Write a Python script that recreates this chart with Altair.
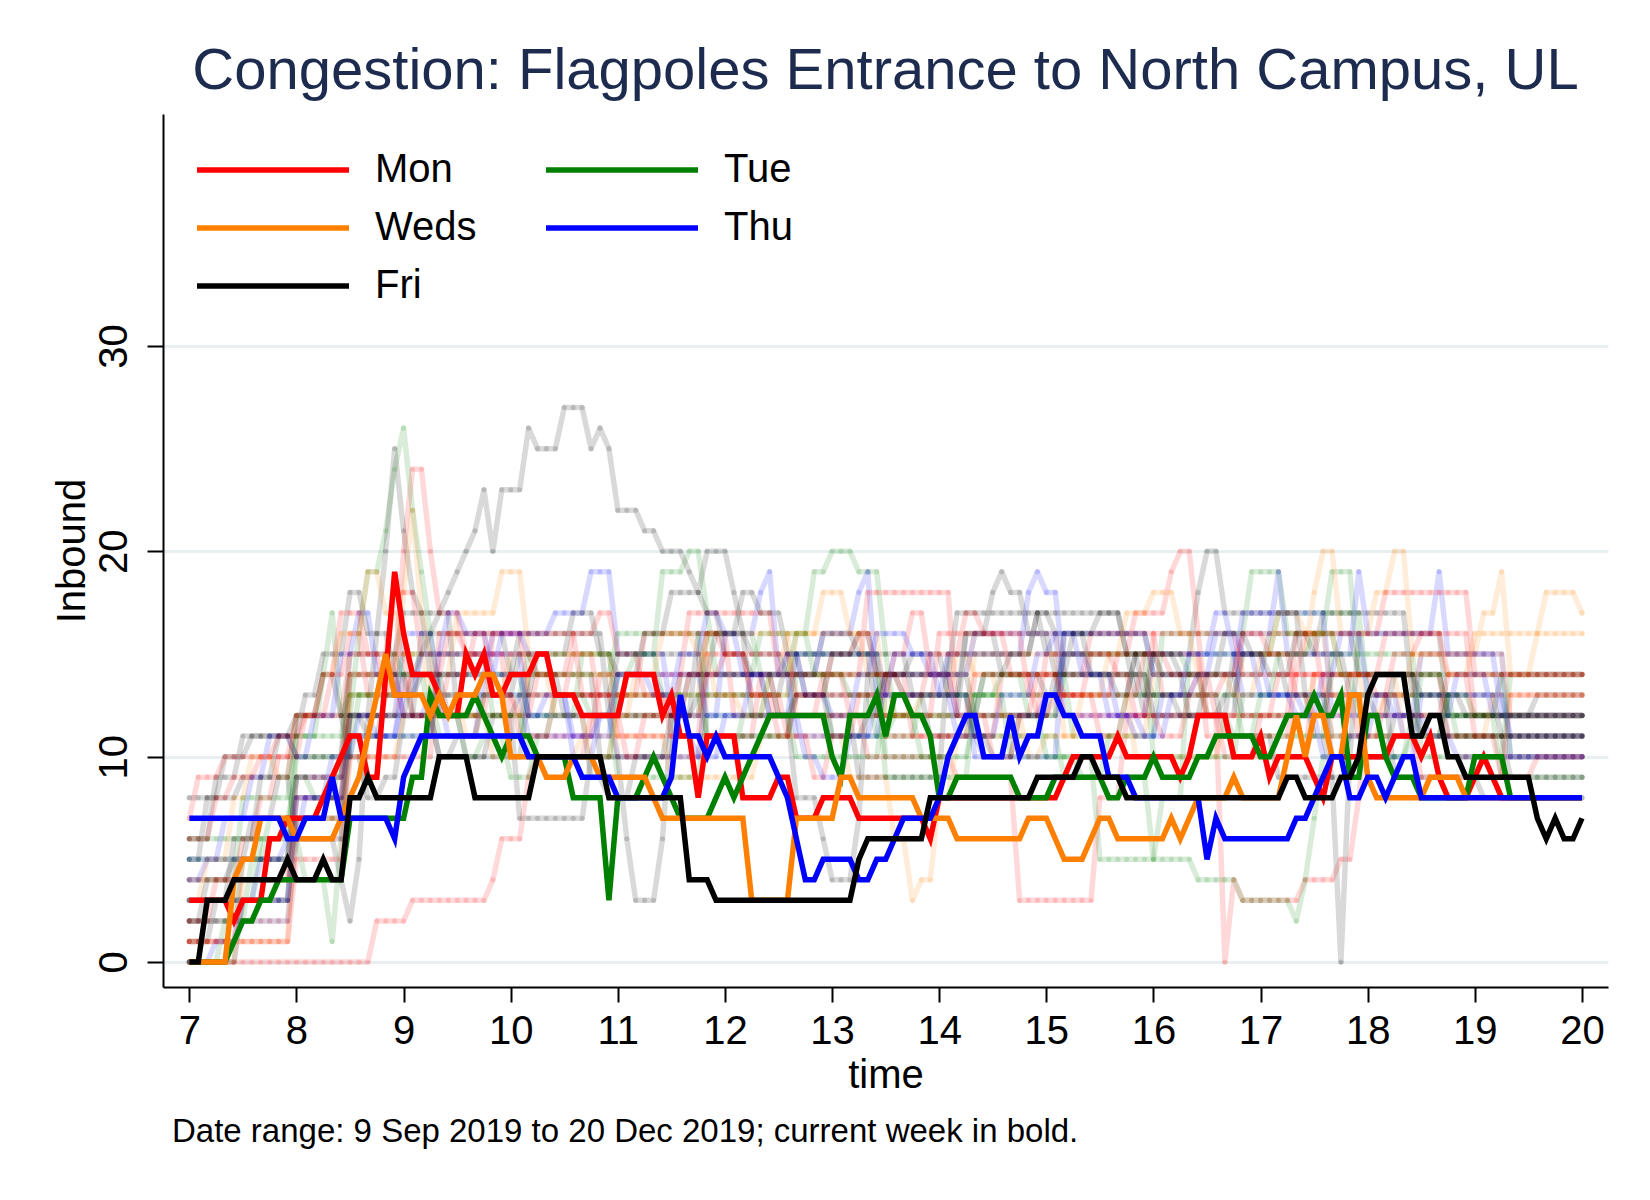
import altair as alt
import pandas as pd

FONT = "Liberation Sans"
TITLE = "Congestion: Flagpoles Entrance to North Campus, UL"
NOTE = "Date range: 9 Sep 2019 to 20 Dec 2019; current week in bold."

# sampling: one reading every 5 minutes from 07:00 to 20:00
START_HOUR = 7
STEP_MIN = 5
N_STEPS = 157

X_TICKS = list(range(7, 21))
Y_TICKS = [0, 10, 20, 30]

DAYS = ["Mon", "Tue", "Weds", "Thu", "Fri"]
DAY_COLOURS = ["#ff0000", "#008000", "#ff7f00", "#0000ff", "#000000"]

# current week, run-length encoded as (value, number of 5-minute readings)
mon_runs = [(3,5),(2,1),(3,3),(6,2),(7,4),(8,1),(9,1),(10,1),(11,2),(9,2),(14,1),(19,1),(16,1),(14,3),(13,1),(12,2),(15,1),(14,1),(15,1),(13,2),(14,3),(15,2),(13,3),(12,5),(14,4),(12,1),(13,1),(11,2),(8,1),(11,4),(8,4),(9,2),(7,3),(8,4),(7,8),(6,1),(8,14),(9,1),(10,5),(11,1),(10,6),(9,1),(10,1),(12,4),(10,3),(11,1),(9,1),(10,4),(9,1),(8,1),(10,7),(11,3),(10,1),(11,1),(9,1),(8,3),(9,1),(10,1),(9,1),(8,10)]
tue_runs = [(0,5),(1,1),(2,2),(3,2),(4,8),(7,7),(9,2),(13,1),(12,4),(13,1),(12,1),(11,1),(10,1),(11,3),(10,4),(8,4),(3,1),(8,3),(9,1),(10,1),(9,1),(8,1),(7,4),(8,1),(9,1),(8,1),(9,1),(10,1),(11,1),(12,7),(10,1),(9,1),(12,3),(13,1),(11,1),(13,2),(12,2),(11,1),(8,2),(9,7),(8,4),(9,6),(8,2),(9,3),(10,1),(9,4),(10,2),(11,5),(10,2),(11,1),(12,3),(13,1),(12,2),(13,1),(9,2),(12,2),(10,1),(9,3),(8,6),(10,4),(8,9)]
wed_runs = [(0,5),(4,1),(5,2),(7,4),(6,5),(7,1),(8,1),(9,1),(11,1),(13,1),(15,1),(13,4),(12,1),(13,1),(12,1),(13,3),(14,2),(13,1),(10,4),(9,3),(10,3),(9,6),(8,1),(7,10),(3,5),(7,5),(9,2),(8,7),(7,4),(6,8),(7,3),(6,1),(5,3),(6,1),(7,2),(6,6),(7,1),(6,1),(7,1),(8,4),(9,1),(8,5),(10,1),(12,1),(10,1),(12,2),(10,2),(13,2),(9,1),(8,6),(9,4),(8,14)]
thu_runs = [(7,11),(6,2),(7,3),(9,1),(7,6),(6,1),(9,1),(10,1),(11,12),(10,6),(9,4),(8,6),(9,1),(13,1),(11,2),(10,1),(11,1),(10,6),(9,1),(8,1),(6,1),(4,2),(5,4),(4,2),(5,2),(6,1),(7,4),(8,1),(10,1),(11,1),(12,2),(10,3),(12,1),(10,1),(11,2),(13,2),(12,2),(11,3),(9,3),(8,8),(5,1),(7,1),(6,8),(7,2),(8,1),(9,1),(10,2),(8,2),(9,2),(8,1),(9,1),(10,2),(8,19)]
fri_runs = [(0,2),(3,3),(4,6),(5,1),(4,3),(5,1),(4,2),(8,2),(9,1),(8,7),(10,4),(8,7),(10,8),(8,9),(4,3),(3,16),(5,1),(6,7),(8,12),(9,5),(10,2),(9,3),(8,18),(9,2),(8,4),(9,2),(10,1),(13,1),(14,4),(11,2),(12,2),(10,2),(9,8),(7,1),(6,1),(7,1),(6,2),(7,1)]

# earlier weeks (faint), run-length encoded the same way
past_grey_a = [(5,2),(8,2),(10,3),(11,5),(12,6),(10,2),(8,2),(9,2),(12,1),(14,1),(15,1),(16,1),(17,1),(18,1),(19,1),(20,1),(21,1),(23,1),(20,1),(23,3),(26,1),(25,3),(27,3),(25,1),(26,1),(25,1),(22,3),(21,2),(20,3),(19,1),(18,1),(20,3),(18,1),(16,1),(15,4),(14,4),(16,4),(15,6),(13,6),(16,4),(14,5),(13,10),(15,5),(14,10),(16,10),(14,10),(12,10),(13,6)]
past_red_a = [(0,21),(2,4),(3,9),(4,1),(6,3),(9,1),(10,6),(12,11),(14,10),(12,10),(10,10),(9,7),(3,9),(8,3),(12,11),(10,10),(14,15),(11,16)]
past_red_b = [(1,6),(5,6),(8,6),(14,6),(20,1),(24,2),(20,1),(17,3),(15,10),(13,10),(16,10),(12,10),(14,10),(11,10),(14,10),(16,8),(13,4),(14,2),(12,1),(0,1),(4,1),(3,7),(4,4),(5,2),(8,1),(12,9),(10,16)]
past_grey_b = [(8,6),(9,6),(6,5),(4,1),(2,1),(5,1),(12,6),(16,10),(14,10),(10,3),(6,1),(3,3),(6,1),(12,3),(16,6),(12,5),(8,3),(6,1),(4,3),(7,1),(14,10),(17,10),(15,10),(13,10),(11,6),(9,7),(0,1),(10,1),(16,10),(12,6),(14,10)]
past_green_a = [(2,6),(5,6),(9,6),(12,1),(16,1),(19,2),(21,1),(24,1),(26,1),(22,1),(19,1),(16,1),(13,10),(15,10),(12,10),(16,6),(14,8),(11,10),(13,10),(10,10),(5,7),(8,3),(15,10),(17,10),(13,10),(11,15)]
past_grey_c = [(3,12),(8,6),(12,3),(16,1),(20,1),(25,1),(21,1),(18,1),(17,1),(14,10),(16,10),(12,10),(13,10),(15,10),(12,10),(16,3),(18,1),(19,1),(18,2),(16,3),(14,10),(12,10),(15,10),(17,10),(13,10),(11,10)]
past_green_b = [(6,12),(10,6),(13,6),(15,10),(12,10),(15,9),(19,3),(20,2),(17,1),(14,5),(16,6),(19,2),(20,3),(19,3),(15,1),(12,10),(14,10),(11,10),(16,10),(19,4),(16,5),(19,3),(14,10),(12,16)]
past_blue_a = [(2,12),(6,6),(11,6),(14,10),(16,7),(17,4),(19,3),(15,6),(12,6),(16,4),(18,1),(19,1),(14,5),(16,4),(18,1),(19,1),(13,8),(15,9),(18,1),(19,1),(18,2),(14,10),(12,10),(16,4),(19,1),(15,8),(19,1),(16,8),(19,1),(15,6),(12,10)]
past_orange_a = [(1,12),(7,6),(12,6),(14,6),(17,5),(19,3),(15,10),(13,10),(16,10),(12,10),(14,10),(16,10),(14,10),(12,10),(15,8),(18,1),(20,2),(16,4),(18,2),(20,2),(15,8),(17,2),(19,1),(14,3),(16,1),(18,4),(17,1)]
past_orange_b = [(0,6),(4,6),(7,6),(10,6),(12,10),(10,10),(11,10),(9,10),(11,10),(9,5),(6,2),(3,1),(4,2),(8,2),(11,10),(13,10),(10,10),(12,10),(14,10),(11,10),(13,11)]
past_green_c = [(3,8),(6,5),(4,3),(1,1),(6,1),(11,10),(14,10),(12,10),(9,10),(12,10),(10,10),(13,10),(11,10),(9,10),(5,5),(4,5),(3,6),(2,1),(4,1),(7,1),(10,10),(12,10),(9,10)]
past_green_d = [(4,6),(8,6),(11,3),(14,1),(17,1),(12,1),(13,10),(11,10),(14,10),(16,10),(13,10),(15,10),(10,10),(12,10),(14,10),(13,10),(11,10),(15,10),(10,10),(14,9)]
past_grey_d = [(6,3),(9,3),(11,6),(10,6),(15,6),(17,6),(12,7),(7,8),(10,10),(14,10),(12,10),(9,10),(15,10),(17,10),(15,8),(18,1),(20,2),(17,9),(13,10),(9,10),(8,12)]
past_red_c = [(7,1),(9,3),(10,8),(12,6),(15,5),(18,3),(15,10),(11,10),(14,10),(17,10),(14,10),(18,10),(12,10),(15,10),(17,4),(19,1),(20,2),(16,1),(12,10),(16,10),(18,10),(14,13)]
past_blue_b = [(5,12),(9,6),(12,6),(16,4),(13,10),(11,10),(14,10),(12,10),(15,10),(13,10),(10,10),(16,10),(14,10),(17,10),(12,10),(15,10),(10,9)]
past_orange_c = [(2,12),(6,6),(13,6),(18,1),(22,1),(17,1),(15,1),(12,10),(14,10),(10,10),(13,10),(16,10),(12,10),(15,10),(11,10),(14,10),(16,10),(13,10),(15,10),(12,9)]
past_red_d = [(4,12),(9,6),(14,6),(12,10),(16,10),(13,10),(11,10),(14,10),(12,10),(16,10),(13,10),(15,10),(11,10),(14,10),(16,10),(12,13)]
past_grey_e = [(0,6),(3,6),(7,6),(12,10),(10,10),(13,10),(15,10),(11,10),(13,10),(14,10),(12,10),(16,10),(14,10),(12,10),(14,10),(11,10),(9,9)]
past_blue_c = [(3,12),(8,6),(11,10),(15,10),(12,10),(10,10),(14,10),(11,10),(14,10),(16,10),(12,10),(15,10),(13,10),(10,10),(13,10),(11,9)]
past_red_e = [(1,12),(5,6),(10,10),(16,10),(13,10),(11,10),(15,10),(13,10),(11,10),(14,10),(12,10),(16,10),(14,10),(11,10),(9,10),(13,9)]
past_green_e = [(5,12),(11,6),(14,10),(12,10),(10,10),(13,10),(11,10),(14,10),(9,10),(13,10),(15,10),(10,10),(13,10),(11,10),(14,10),(10,9)]
past_red_f = [(2,3),(4,3),(6,2),(8,2),(10,3),(12,3),(14,2),(16,2),(13,3),(15,2),(12,4),(14,3),(16,2),(13,3),(11,4),(13,2),(15,3),(12,3),(10,2),(12,4),(14,3),(16,2),(15,3),(13,4),(11,3),(9,2),(11,3),(13,4),(15,2),(17,2),(14,3),(12,4),(10,3),(12,2),(14,3),(13,4),(11,3),(13,2),(15,3),(14,4),(12,3),(10,3),(12,2),(14,3),(16,2),(13,4),(11,3),(13,3),(12,4),(14,3),(11,3),(9,4),(10,6)]
past_blue_d = [(4,2),(5,2),(7,3),(9,2),(11,3),(10,2),(12,3),(15,2),(17,2),(14,3),(12,3),(13,2),(11,4),(14,2),(16,3),(15,3),(13,2),(10,3),(12,3),(14,4),(13,2),(15,3),(17,2),(16,2),(14,3),(12,4),(10,2),(9,3),(11,3),(13,2),(15,4),(14,3),(12,2),(11,3),(13,4),(15,2),(16,3),(14,3),(12,4),(11,2),(13,3),(15,3),(17,2),(15,3),(13,4),(12,3),(14,2),(16,3),(13,4),(11,3),(12,3),(14,4),(12,11)]
past_grey_f = [(1,3),(3,2),(6,3),(9,2),(11,3),(13,2),(15,3),(18,2),(16,3),(14,2),(12,3),(10,2),(11,3),(13,4),(15,2),(14,3),(12,3),(9,2),(8,3),(10,4),(12,2),(14,3),(16,3),(18,2),(17,3),(15,2),(13,3),(11,4),(12,2),(14,3),(15,4),(13,3),(11,2),(10,3),(12,4),(14,2),(16,3),(17,3),(15,2),(13,4),(12,3),(14,2),(16,3),(15,4),(13,3),(11,2),(9,3),(10,4),(12,3),(11,3),(13,2),(12,14)]
past_orange_d = [(3,2),(5,3),(8,2),(10,3),(9,2),(12,3),(14,2),(16,3),(19,2),(17,2),(15,3),(13,4),(11,2),(13,3),(15,3),(14,2),(12,4),(10,3),(12,2),(14,3),(16,4),(15,2),(13,3),(12,3),(14,2),(16,4),(18,3),(16,2),(14,3),(12,3),(13,4),(15,2),(14,3),(12,3),(10,2),(11,4),(13,3),(15,2),(17,3),(18,3),(16,2),(14,4),(13,3),(15,2),(17,3),(16,4),(14,3),(12,2),(13,3),(15,4),(14,3),(16,10)]
past_green_f = [(0,4),(2,3),(5,2),(7,3),(9,2),(8,3),(10,2),(13,3),(15,2),(14,3),(12,4),(10,2),(11,3),(9,3),(11,2),(13,4),(12,3),(14,2),(15,3),(13,3),(11,4),(10,2),(12,3),(14,3),(16,2),(14,4),(13,3),(11,2),(12,3),(10,4),(11,2),(13,3),(14,3),(12,2),(10,4),(9,3),(11,2),(13,3),(15,4),(14,2),(12,3),(11,3),(13,2),(15,4),(16,3),(14,2),(12,3),(10,3),(11,4),(13,3),(12,12)]
past_red_g = [(6,3),(8,2),(9,3),(10,2),(11,3),(12,2),(14,2),(17,3),(15,2),(13,3),(14,4),(16,2),(15,3),(13,3),(12,2),(14,4),(16,3),(17,2),(15,3),(13,3),(12,4),(14,2),(15,3),(13,3),(11,2),(13,4),(15,3),(16,2),(14,3),(13,3),(15,4),(17,2),(16,3),(14,3),(12,2),(13,4),(15,3),(14,2),(12,3),(11,3),(13,4),(14,2),(16,3),(15,3),(13,2),(12,4),(14,3),(13,2),(15,3),(16,3),(14,10)]
past_blue_e = [(0,3),(1,3),(3,2),(5,3),(6,2),(8,3),(10,3),(12,2),(11,3),(13,2),(15,3),(17,2),(16,3),(14,4),(12,2),(13,3),(11,3),(12,2),(14,4),(13,3),(11,2),(10,3),(12,3),(14,4),(15,2),(13,3),(12,3),(14,2),(16,4),(15,3),(13,2),(11,3),(10,3),(12,4),(13,2),(15,3),(14,3),(12,2),(11,4),(13,3),(14,2),(16,3),(15,3),(13,4),(12,2),(10,3),(11,3),(13,2),(12,4),(11,3),(10,10)]
past_grey_g = [(2,2),(4,3),(5,2),(7,3),(9,2),(12,3),(14,2),(12,3),(11,2),(13,4),(14,3),(12,2),(10,3),(12,3),(13,2),(15,4),(17,3),(15,2),(14,3),(16,3),(18,4),(17,2),(15,3),(14,3),(12,2),(13,4),(15,3),(16,2),(14,3),(13,3),(11,4),(12,2),(14,3),(15,3),(17,2),(16,4),(14,3),(13,2),(15,3),(14,3),(12,4),(13,2),(15,3),(14,3),(16,2),(15,4),(13,3),(12,2),(14,3),(13,3),(11,10)]

PAST = [
    ("grey_a", "#000000", past_grey_a), ("red_a", "#ff0000", past_red_a),
    ("red_b", "#ff0000", past_red_b), ("grey_b", "#000000", past_grey_b),
    ("green_a", "#008000", past_green_a), ("grey_c", "#000000", past_grey_c),
    ("green_b", "#008000", past_green_b), ("blue_a", "#0000ff", past_blue_a),
    ("orange_a", "#ff7f00", past_orange_a), ("orange_b", "#ff7f00", past_orange_b),
    ("green_c", "#008000", past_green_c), ("green_d", "#008000", past_green_d),
    ("grey_d", "#000000", past_grey_d), ("red_c", "#ff0000", past_red_c),
    ("blue_b", "#0000ff", past_blue_b), ("orange_c", "#ff7f00", past_orange_c),
    ("red_d", "#ff0000", past_red_d), ("grey_e", "#000000", past_grey_e),
    ("blue_c", "#0000ff", past_blue_c), ("red_e", "#ff0000", past_red_e),
    ("green_e", "#008000", past_green_e), ("red_f", "#ff0000", past_red_f),
    ("blue_d", "#0000ff", past_blue_d), ("grey_f", "#000000", past_grey_f),
    ("orange_d", "#ff7f00", past_orange_d), ("green_f", "#008000", past_green_f),
    ("red_g", "#ff0000", past_red_g), ("blue_e", "#0000ff", past_blue_e),
    ("grey_g", "#000000", past_grey_g),
]


def expand(runs):
    vals = []
    for v, n in runs:
        vals.extend([v] * n)
    vals = vals[:N_STEPS]
    while len(vals) < N_STEPS:
        vals.append(vals[-1])
    return vals


def hour(i):
    return START_HOUR + i * STEP_MIN / 60.0


bold_rows = []
for day, runs in zip(DAYS, [mon_runs, tue_runs, wed_runs, thu_runs, fri_runs]):
    for i, v in enumerate(expand(runs)):
        bold_rows.append({"day": day, "time": hour(i), "Inbound": v})
bold_df = pd.DataFrame(bold_rows)

faint_rows = []
for name, col, runs in PAST:
    for i, v in enumerate(expand(runs)):
        faint_rows.append({"series": name, "colour": col, "time": hour(i), "Inbound": v})
faint_df = pd.DataFrame(faint_rows)

x_scale = alt.Scale(domain=[6.754, 20.243], nice=False, zero=False)
y_scale = alt.Scale(domain=[-1.22, 41.3], nice=False, zero=False)

y_axis = alt.Axis(
    values=Y_TICKS, title="Inbound", format="d",
    tickSize=16, tickWidth=2, tickColor="black",
    domainColor="black", domainWidth=2,
    labelAngle=270, labelAlign="center", labelBaseline="alphabetic",
    labelPadding=21, labelFontSize=40, labelFont=FONT, labelColor="black",
    labelFlush=False, labelOverlap=False,
    titleAngle=270, titleX=-79, titleBaseline="alphabetic", titleAlign="center",
    titleFontSize=40, titleFont=FONT, titleFontWeight="normal", titleColor="black",
    grid=True, gridColor="#e7eff0", gridWidth=3,
)
x_axis = alt.Axis(
    orient="bottom", values=X_TICKS, title="time", format="d",
    tickSize=15, tickWidth=2, tickColor="black",
    domainColor="black", domainWidth=2,
    labelFontSize=40, labelFont=FONT, labelColor="black",
    labelBaseline="alphabetic", labelPadding=41, labelFlush=False, labelOverlap=False,
    titleFontSize=40, titleFont=FONT, titleFontWeight="normal", titleColor="black",
    titleBaseline="alphabetic", titleY=100,
    grid=False,
)
note_axis = alt.Axis(
    orient="bottom", title=NOTE, domain=False, ticks=False, labels=False, grid=False,
    titleX=8.5, titleY=154, titleAlign="left", titleBaseline="alphabetic",
    titleFontSize=33, titleFont=FONT, titleFontWeight="normal", titleColor="black",
)

faint_lines = alt.Chart(faint_df).mark_line(
    strokeWidth=5.5, opacity=0.15, strokeCap="round", strokeJoin="round"
).encode(
    x=alt.X("time:Q", scale=x_scale, axis=None),
    y=alt.Y("Inbound:Q", scale=y_scale, axis=y_axis),
    stroke=alt.Stroke("colour:N", scale=None),
    detail="series:N",
)
faint_dots = alt.Chart(faint_df).mark_circle(size=26, opacity=0.15).encode(
    x=alt.X("time:Q", scale=x_scale, axis=None),
    y=alt.Y("Inbound:Q", scale=y_scale, axis=y_axis),
    fill=alt.Fill("colour:N", scale=None),
)

bold_lines = alt.Chart(bold_df).mark_line(strokeWidth=5.5).encode(
    x=alt.X("time:Q", scale=x_scale, axis=x_axis),
    y=alt.Y("Inbound:Q", scale=y_scale, axis=y_axis),
    color=alt.Color(
        "day:N", sort=DAYS,
        scale=alt.Scale(domain=DAYS, range=DAY_COLOURS),
        legend=alt.Legend(
            title=None, orient="none", legendX=31, legendY=36, columns=2,
            direction="horizontal",
            symbolType="stroke", symbolSize=23104, symbolStrokeWidth=5.5,
            symbolOpacity=1, clipHeight=40, labelFontSize=40, labelFont=FONT,
            labelColor="black", labelOffset=23, labelLimit=0,
            columnPadding=66, rowPadding=18, padding=0,
        ),
    ),
)

note_layer = alt.Chart(bold_df).mark_line(opacity=0).encode(
    x=alt.X("time:Q", scale=x_scale, axis=note_axis),
    y=alt.Y("Inbound:Q", scale=y_scale, axis=y_axis),
    detail="day:N",
)

chart = alt.layer(faint_lines, faint_dots, bold_lines, note_layer).resolve_axis(
    x="independent"
).properties(
    width=1445, height=873,
    background="white",
    title=alt.Title(
        TITLE, fontSize=58, font=FONT, fontWeight="normal", color="#1c2b4e",
        anchor="middle", frame="group", offset=24, dy=57, baseline="alphabetic",
    ),
    autosize=alt.AutoSizeParams(type="none"),
    padding={"left": 155, "top": 106, "right": 34, "bottom": 205},
).configure_view(stroke=None)

chart.save("out.html", embed_options={"renderer": "svg", "actions": False})
